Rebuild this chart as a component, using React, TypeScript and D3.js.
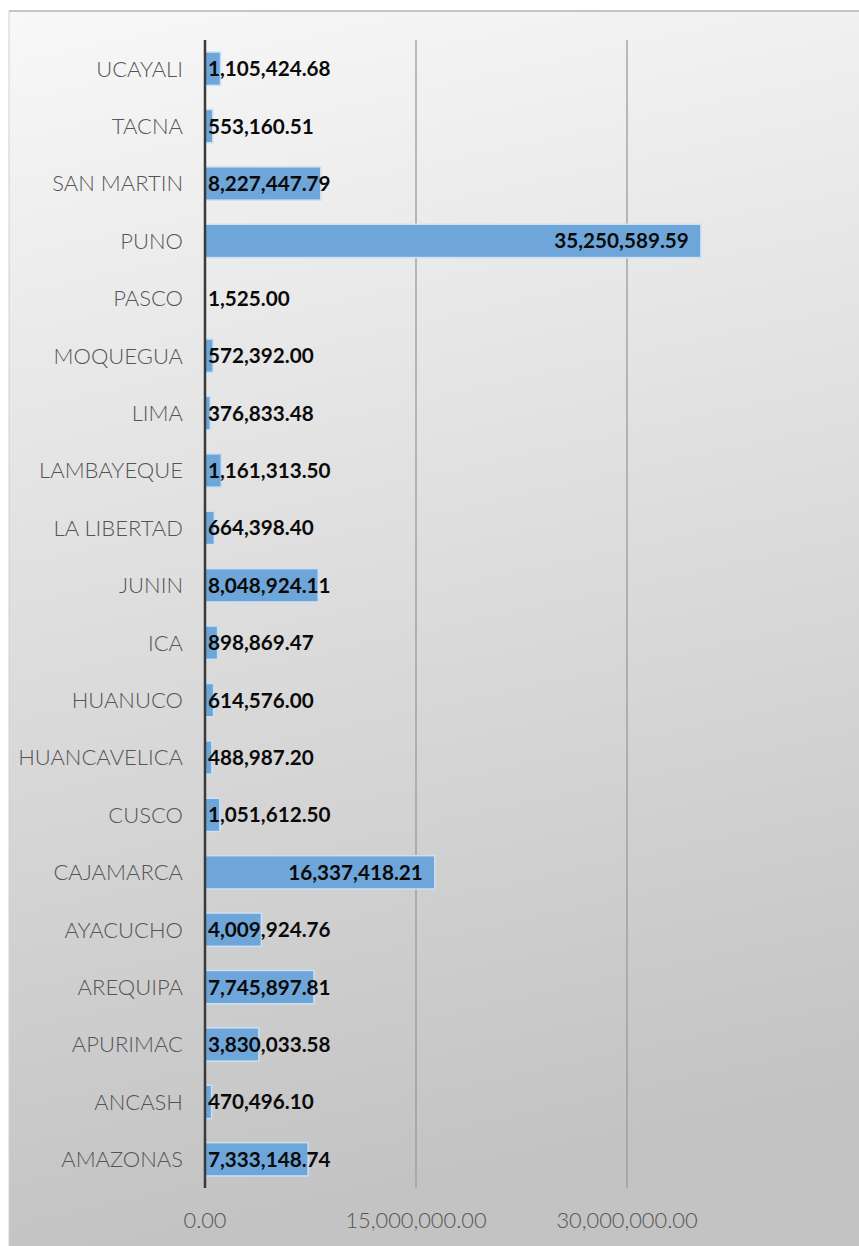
import React, { useEffect, useRef } from 'react';
import * as d3 from 'd3';

// regiones, de arriba hacia abajo
const regions = [
  'UCAYALI', 'TACNA', 'SAN MARTIN', 'PUNO', 'PASCO', 'MOQUEGUA', 'LIMA',
  'LAMBAYEQUE', 'LA LIBERTAD', 'JUNIN', 'ICA', 'HUANUCO', 'HUANCAVELICA',
  'CUSCO', 'CAJAMARCA', 'AYACUCHO', 'AREQUIPA', 'APURIMAC', 'ANCASH', 'AMAZONAS',
];

const amounts = [
  1105424.68, 553160.51, 8227447.79, 35250589.59, 1525.0, 572392.0, 376833.48,
  1161313.5, 664398.4, 8048924.11, 898869.47, 614576.0, 488987.2,
  1051612.5, 16337418.21, 4009924.76, 7745897.81, 3830033.58, 470496.1, 7333148.74,
];

const ticks = [0, 15000000, 30000000];

const W = 859;
const H = 1246;
const fmt = d3.format(',.2f');
const FONT = 'Lato, "Open Sans", sans-serif';

const App = () => {
  const ref = useRef<SVGSVGElement>(null);

  useEffect(() => {
    const svg = d3.select(ref.current);
    svg.selectAll('*').remove();

    const margin = { top: 40, left: 205, bottom: 1188, right: 838 };

    const defs = svg.append('defs');
    const grad = defs.append('linearGradient')
      .attr('id', 'bg').attr('x1', '0').attr('y1', '0').attr('x2', '0.15').attr('y2', '1');
    grad.append('stop').attr('offset', '0%').attr('stop-color', '#f8f8f8');
    grad.append('stop').attr('offset', '100%').attr('stop-color', '#c3c3c3');

    svg.append('rect').attr('width', W).attr('height', H).attr('fill', '#ffffff');
    svg.append('rect')
      .attr('x', 9).attr('y', 11).attr('width', W - 9).attr('height', H - 11)
      .attr('fill', 'url(#bg)');
    svg.append('line')
      .attr('x1', 9).attr('x2', W).attr('y1', 11).attr('y2', 11)
      .attr('stroke', '#b4b4b4').attr('stroke-width', 1.5);
    svg.append('line')
      .attr('x1', 9).attr('x2', 9).attr('y1', 11).attr('y2', H)
      .attr('stroke', '#d0d0d0').attr('stroke-width', 1);

    const x = d3.scaleLinear().domain([0, 45000000]).range([margin.left, margin.right]);
    const y = d3.scaleBand().domain(regions).range([margin.top, margin.bottom]).paddingInner(0.42).paddingOuter(0.21);

    // gridlines
    svg.append('g').selectAll('line')
      .data(ticks.slice(1))
      .join('line')
      .attr('x1', d => x(d)).attr('x2', d => x(d))
      .attr('y1', margin.top).attr('y2', margin.bottom)
      .attr('stroke', '#9a9a9a').attr('stroke-width', 1.3);

    const rows = regions.map((r, i) => ({ r, v: amounts[i] }));

    svg.append('g').selectAll('rect')
      .data(rows)
      .join('rect')
      .attr('x', x(0))
      .attr('y', d => y(d.r)!)
      .attr('width', d => x(d.v) - x(0))
      .attr('height', y.bandwidth())
      .attr('fill', '#6fa6d9')
      .attr('stroke', '#c9e0f5')
      .attr('stroke-width', 1.5);

    // eje vertical
    svg.append('line')
      .attr('x1', x(0)).attr('x2', x(0))
      .attr('y1', margin.top).attr('y2', margin.bottom)
      .attr('stroke', '#3a3a3a').attr('stroke-width', 2.5);

    // categorias
    svg.append('g').selectAll('text')
      .data(regions)
      .join('text')
      .attr('x', 183)
      .attr('y', d => y(d)! + y.bandwidth() / 2)
      .attr('dy', '0.36em')
      .attr('text-anchor', 'end')
      .attr('fill', '#555555')
      .style('font-family', FONT)
      .style('font-weight', 300)
      .style('font-size', '22px')
      .text(d => d);

    // etiquetas de valores
    const labels = svg.append('g').selectAll('text')
      .data(rows)
      .join('text')
      .attr('y', d => y(d.r)! + y.bandwidth() / 2)
      .attr('dy', '0.36em')
      .attr('fill', '#0a0a0a')
      .style('font-family', FONT)
      .style('font-size', '20.7px')
      .style('font-weight', 'bold')
      .text(d => fmt(d.v));

    labels.each(function (d) {
      const t = d3.select(this);
      const w = (this as SVGTextElement).getComputedTextLength();
      const bw = x(d.v) - x(0);
      if (w + 12 < bw) {
        t.attr('x', x(d.v) - 12).attr('text-anchor', 'end');
      } else {
        t.attr('x', x(0) + 3).attr('text-anchor', 'start');
      }
    });

    // ticks eje x
    svg.append('g').selectAll('text')
      .data(ticks)
      .join('text')
      .attr('x', d => x(d))
      .attr('y', 1220)
      .attr('dy', '0.36em')
      .attr('text-anchor', 'middle')
      .attr('fill', '#555555')
      .style('font-family', FONT)
      .style('font-weight', 300)
      .style('font-size', '21.8px')
      .text(d => fmt(d));
  }, []);

  return (
    <svg
      ref={ref}
      width={W}
      height={H}
      style={{ position: 'absolute', left: 0, top: 0, display: 'block' }}
    />
  );
};

export default App;
